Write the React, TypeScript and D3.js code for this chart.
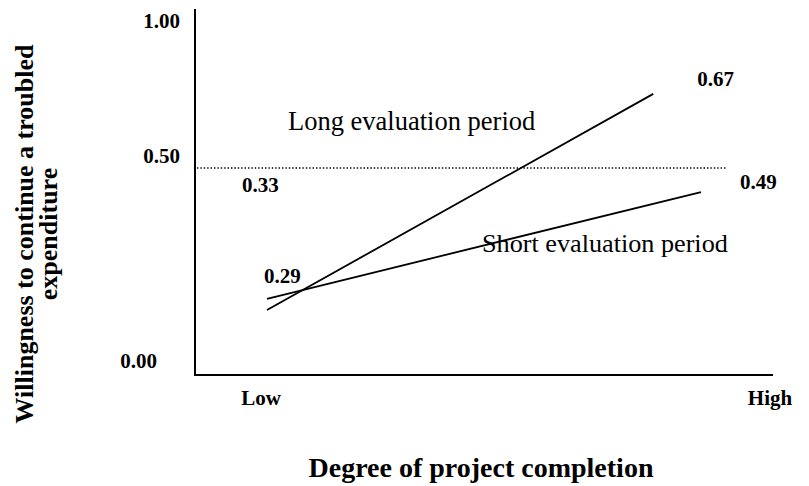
import React from "react";
import * as d3 from "d3";

// x: 0 = Low, 1 = High ; y in chart units (0.5 = dotted reference line)
const levels = ["Low", "High"];
const longX = [0, 0.89];
const longY = [0.157, 0.679];
const shortX = [0, 1];
const shortY = [0.184, 0.442];
const longLabels = ["0.33", "0.67"];
const shortLabels = ["0.29", "0.49"];
const yTicks = ["0.00", "0.50", "1.00"];
const refValue = 0.5;

const width = 809;
const height = 486;
const font = "'Liberation Serif', 'Times New Roman', Times, serif";

export default function App() {
  const x = d3.scaleLinear().domain([0, 1]).range([267, 701]);
  const y = d3.scaleLinear().domain([0, 1]).range([375, -39]);
  const axisX0 = 195;
  const axisX1 = 773;
  const axisTop = 9;
  const axisBottom = y(0);

  const line = d3
    .line<[number, number]>()
    .x(d => x(d[0]))
    .y(d => y(d[1]));

  const longPts: [number, number][] = longX.map((v, i) => [v, longY[i]]);
  const shortPts: [number, number][] = shortX.map((v, i) => [v, shortY[i]]);

  const bold = { fontFamily: font, fontWeight: "bold", fontSize: 21 } as const;

  return (
    <div style={{ position: "absolute", left: 0, top: 0 }}>
      <svg width={width} height={height} style={{ display: "block", background: "#fff" }}>
        {/* axes */}
        <line x1={axisX0} x2={axisX0} y1={axisTop} y2={axisBottom + 1} stroke="#000" strokeWidth={2} />
        <line x1={axisX0 - 1} x2={axisX1} y1={axisBottom} y2={axisBottom} stroke="#000" strokeWidth={2} />

        {/* reference line */}
        <line
          x1={axisX0 + 2}
          x2={726}
          y1={y(refValue)}
          y2={y(refValue)}
          stroke="#000"
          strokeWidth={1.4}
          strokeDasharray="1.4,2"
        />

        {/* y tick labels */}
        <text x={157} y={y(0) - 7} textAnchor="end" {...bold}>{yTicks[0]}</text>
        <text x={180} y={y(refValue) - 5} textAnchor="end" {...bold}>{yTicks[1]}</text>
        <text x={180} y={axisTop + 19} textAnchor="end" {...bold}>{yTicks[2]}</text>

        {/* x labels */}
        <text x={261} y={405} textAnchor="middle" {...bold}>{levels[0]}</text>
        <text x={770} y={405} textAnchor="middle" {...bold}>{levels[1]}</text>

        {/* series */}
        <path d={line(longPts) || ""} fill="none" stroke="#000" strokeWidth={1.8} />
        <path d={line(shortPts) || ""} fill="none" stroke="#000" strokeWidth={1.8} />

        {/* value labels */}
        <text x={x(longX[0]) - 25} y={y(longY[0]) - 118} {...bold}>{longLabels[0]}</text>
        <text x={x(longX[1]) + 44} y={y(longY[1]) - 8} {...bold}>{longLabels[1]}</text>
        <text x={x(shortX[0]) - 3} y={y(shortY[0]) - 16} {...bold}>{shortLabels[0]}</text>
        <text x={x(shortX[1]) + 39} y={y(shortY[1]) - 3} {...bold}>{shortLabels[1]}</text>

        {/* series names */}
        <text x={288} y={130} fontFamily={font} fontSize={26.5}>Long evaluation period</text>
        <text x={482} y={252} fontFamily={font} fontSize={26.2}>Short evaluation period</text>

        {/* axis titles */}
        <text x={481} y={477} textAnchor="middle" fontFamily={font} fontWeight="bold" fontSize={28}>
          Degree of project completion
        </text>
        <g transform="translate(0,234) rotate(-90)">
          <text x={0} y={33} textAnchor="middle" fontFamily={font} fontWeight="bold" fontSize={26}>
            Willingness to continue a troubled
          </text>
          <text x={0} y={57} textAnchor="middle" fontFamily={font} fontWeight="bold" fontSize={26}>
            expenditure
          </text>
        </g>
      </svg>
    </div>
  );
}
